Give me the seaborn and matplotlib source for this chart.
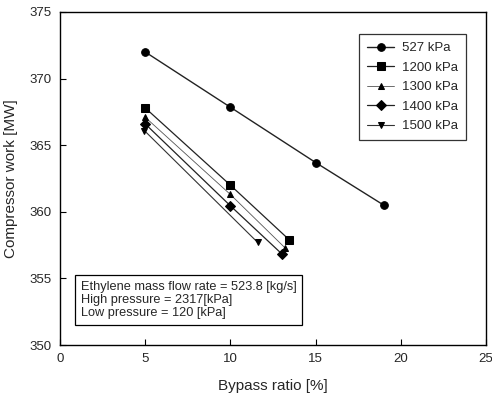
import matplotlib
matplotlib.use("Agg")
import matplotlib.pyplot as plt
import seaborn as sns
import pandas as pd

sns.set_theme(style="white")
plt.rcParams['font.family'] = ['Liberation Sans', 'DejaVu Sans']

labels = ["527 kPa", "1200 kPa", "1300 kPa", "1400 kPa", "1500 kPa"]
x_527 = [5, 10, 15, 19]
y_527 = [372.0, 367.85, 363.7, 360.5]
x_1200 = [5, 10, 13.45]
y_1200 = [367.8, 362.0, 357.9]
x_1300 = [5, 10, 13.2]
y_1300 = [367.1, 361.3, 357.3]
x_1400 = [5, 10, 13.05]
y_1400 = [366.6, 360.45, 356.8]
x_1500 = [4.95, 11.6]
y_1500 = [366.1, 357.7]

series_x = [x_527, x_1200, x_1300, x_1400, x_1500]
series_y = [y_527, y_1200, y_1300, y_1400, y_1500]
markers = ["o", "s", "^", "D", "v"]
msizes = [5.5, 5.2, 4.0, 5.0, 5.0]
lws = [1.0, 0.9, 0.6, 0.9, 0.8]
lcolors = ["#222222", "#222222", "#555555", "#222222", "#333333"]

fig = plt.figure(figsize=(4.92, 4.07), dpi=100)
ax = fig.add_axes([60/492, 1-345/407, 426/492, 333/407])

for lab, xs, ys, m, ms, lw, lc in zip(labels, series_x, series_y, markers, msizes, lws, lcolors):
    df = pd.DataFrame({"x": xs, "y": ys})
    sns.lineplot(data=df, x="x", y="y", ax=ax, color=lc, lw=lw, marker=m,
                 markersize=ms, markerfacecolor="black", markeredgecolor="black",
                 label=lab, sort=False)

ax.set_xlim(0, 25)
ax.set_ylim(350, 375)
ax.set_xticks([0, 5, 10, 15, 20, 25])
ax.set_yticks([350, 355, 360, 365, 370, 375])
ax.tick_params(direction="in", length=4, width=0.8, labelsize=9.5, color="black",
               top=False, right=False, bottom=True, left=True, pad=6)
for s in ax.spines.values():
    s.set_color("black")
    s.set_linewidth(1.0)
ax.set_xlabel("Bypass ratio [%]", fontsize=11, labelpad=10)
ax.set_ylabel("Compressor work [MW]", fontsize=11, labelpad=8)
ax.grid(False)

leg = ax.legend(loc="upper right", bbox_to_anchor=(0.969, 0.953), fontsize=9.5,
                frameon=True, fancybox=False, edgecolor="black", handlelength=2.1,
                borderpad=0.6, labelspacing=0.55, handletextpad=0.6)
leg.get_frame().set_linewidth(0.9)

ax.text(0.049, 0.193, "Ethylene mass flow rate = 523.8 [kg/s]\nHigh pressure = 2317[kPa]\nLow pressure = 120 [kPa]",
        transform=ax.transAxes, fontsize=9.2, va="top", ha="left", linespacing=1.12,
        bbox=dict(boxstyle="square,pad=0.45", facecolor="white", edgecolor="black", linewidth=0.9))

fig.savefig("out.png", dpi=100)
